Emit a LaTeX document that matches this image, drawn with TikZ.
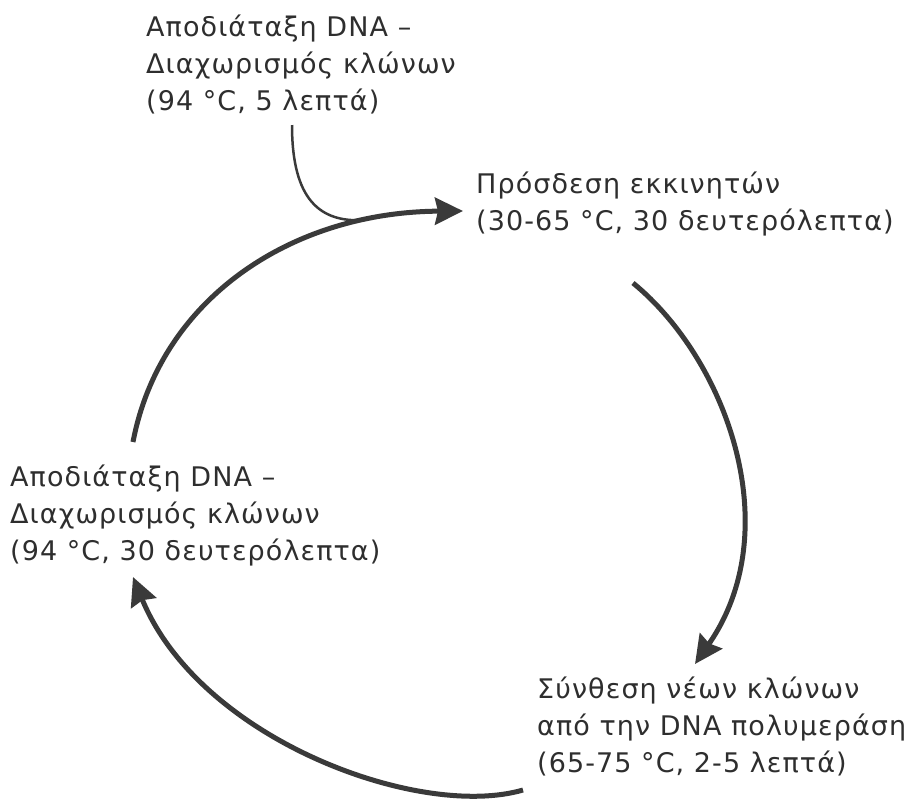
\documentclass[tikz,border=0pt]{standalone}
\usepackage{fontspec}
\setmainfont{DejaVu Sans}[LetterSpace=4]
\usetikzlibrary{arrows.meta}
\definecolor{ink}{HTML}{2E2E2E}
\definecolor{arcc}{HTML}{3A3A3A}
\begin{document}
\begin{tikzpicture}[x=1pt,y=-1pt,
  lab/.style={anchor=base west, inner sep=0pt, text=ink, font=\fontsize{27}{37}\selectfont},
  cyc/.style={draw=arcc, line width=5pt, -{Stealth[length=28pt,width=27pt,inset=3pt]}},
  feed/.style={draw=arcc, line width=2.5pt}]
\useasboundingbox (0,0) rectangle (908,804);
\node[lab] (denat0) at (146,36) {\begin{tabular}[t]{@{}l@{}}Αποδιάταξη DNA –\\Διαχωρισμός κλώνων\\(94 °C, 5 λεπτά)\end{tabular}};
\node[lab] (anneal) at (476,193) {\begin{tabular}[t]{@{}l@{}}Πρόσδεση εκκινητών\\(30-65 °C, 30 δευτερόλεπτα)\end{tabular}};
\node[lab] (denat) at (10,486) {\begin{tabular}[t]{@{}l@{}}Αποδιάταξη DNA –\\Διαχωρισμός κλώνων\\(94 °C, 30 δευτερόλεπτα)\end{tabular}};
\node[lab] (ext) at (537,698) {\begin{tabular}[t]{@{}l@{}}Σύνθεση νέων κλώνων\\από την DNA πολυμεράση\\(65-75 °C, 2-5 λεπτά)\end{tabular}};
\coordinate (a1s) at (133,442);
\coordinate (a1e) at (463,211);
\coordinate (fs) at (292,125);
\coordinate (fe) at (365,220);
\coordinate (a2s) at (633,283);
\coordinate (a2e) at (695,664);
\coordinate (a3s) at (523,790);
\coordinate (a3e) at (133,577);
\draw[feed] (fs) .. controls (292,200) and (320,223) .. (fe);
\draw[cyc] (a1s) .. controls (160,300) and (290,212) .. (a1e);
\draw[cyc] (a2s) .. controls (727,360) and (788,530) .. (a2e);
\draw[cyc] (a3s) .. controls (420,820) and (200,740) .. (a3e);
\end{tikzpicture}
\end{document}
